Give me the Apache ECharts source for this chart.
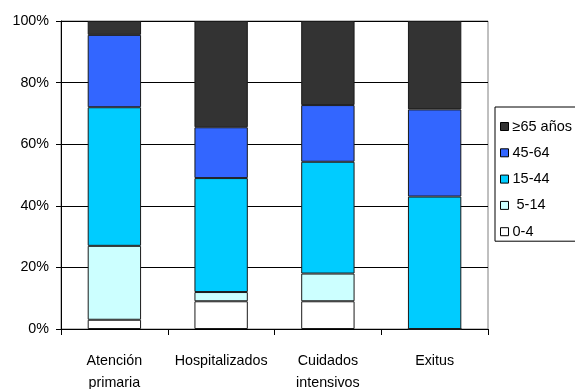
<!DOCTYPE html>
<html>
<head>
<meta charset="utf-8">
<script src="https://cdn.jsdelivr.net/npm/echarts@6/dist/echarts.min.js"></script>
<style>
  html, body { margin: 0; padding: 0; background: #fff; }
  #chart { width: 575px; height: 389px; }
</style>
</head>
<body>
<div id="chart"></div>
<script>
// Age-group distribution (%) per care setting
const categories = ['Atención\nprimaria', 'Hospitalizados', 'Cuidados\nintensivos', 'Exitus'];
const age0to4   = [3, 9, 9, 0];
const age5to14  = [24, 3, 9, 0];
const age15to44 = [45, 37, 36.3, 43];
const age45to64 = [23.5, 16.5, 18.4, 28.3];
const age65plus = [4.5, 34.5, 27.3, 28.7];
const yTicks = [0, 20, 40, 60, 80, 100];

const font = '"Liberation Sans", Arial, sans-serif';
const border = { borderColor: '#1a1a1a', borderWidth: 1 };

function barSeries(name, data, color) {
  return {
    name: name,
    type: 'bar',
    stack: 'total',
    barWidth: '50%',
    data: data,
    itemStyle: Object.assign({ color: color }, border),
    emphasis: { disabled: true }
  };
}

const chart = echarts.init(document.getElementById('chart'), null, { renderer: 'canvas' });
chart.setOption({
  animation: false,
  backgroundColor: '#fff',
  grid: {
    left: 61, right: 87, top: 21, bottom: 60,
    containLabel: false,
    outerBoundsMode: 'none',
    show: true, borderColor: '#808080', borderWidth: 1
  },
  legend: {
    orient: 'vertical',
    left: 495, top: 107,
    data: ['≥65 años', '45-64', '15-44', '5-14', '0-4'],
    itemWidth: 8, itemHeight: 8, itemGap: 11.3,
    padding: [12, 30, 2, 5],
    borderColor: '#000', borderWidth: 1,
    icon: 'rect',
    itemStyle: { borderColor: '#000', borderWidth: 1 },
    formatter: function (n) { return n === '5-14' ? ' 5-14' : n; },
    textStyle: { fontFamily: font, fontSize: 14.5, color: '#000', padding: [0, 0, 0, -1] }
  },
  xAxis: {
    type: 'category',
    data: categories,
    axisLine: { lineStyle: { color: '#000' } },
    axisTick: { show: true, length: 6, lineStyle: { color: '#000' } },
    axisLabel: { interval: 0, fontFamily: font, fontSize: 14.3, color: '#000', lineHeight: 22, margin: 21 }
  },
  yAxis: {
    type: 'value',
    min: yTicks[0], max: yTicks[yTicks.length - 1], interval: 20,
    axisLine: { show: true, lineStyle: { color: '#000' } },
    axisTick: { show: true, length: 5, lineStyle: { color: '#000' } },
    splitLine: { show: true, lineStyle: { color: '#000' } },
    axisLabel: {
      fontFamily: font, fontSize: 14.3, color: '#000', margin: 12,
      padding: [4, 0, 0, 0], formatter: '{value}%'
    }
  },
  series: [
    barSeries('0-4', age0to4, '#ffffff'),
    barSeries('5-14', age5to14, '#ccffff'),
    barSeries('15-44', age15to44, '#00ccff'),
    barSeries('45-64', age45to64, '#3366ff'),
    barSeries('≥65 años', age65plus, '#333333')
  ]
});
</script>
</body>
</html>
